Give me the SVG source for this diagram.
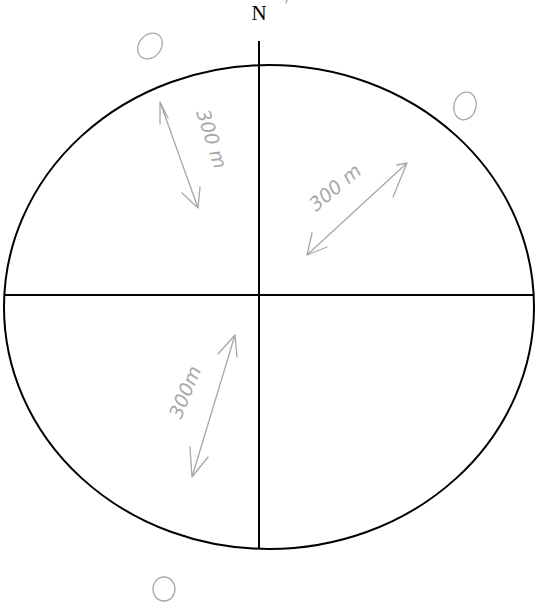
<svg xmlns="http://www.w3.org/2000/svg" width="538" height="612" viewBox="0 0 538 612">
<style>
.ink{fill:none;stroke:#000;stroke-width:2}
.pen{fill:none;stroke:#a8a8a8;stroke-width:1.3;stroke-linecap:round;stroke-linejoin:round}
.hw{font-family:"DejaVu Sans",sans-serif;font-style:italic;fill:#a8a8a8;font-size:19px}
</style>
<rect width="538" height="612" fill="#fff"/>
<g id="outline">
<ellipse class="ink" cx="269" cy="307" rx="265" ry="242"/>
</g>
<g id="connectors">
<line class="ink" x1="259" y1="41" x2="259" y2="549"/>
<line class="ink" x1="4" y1="295" x2="534" y2="295"/>
</g>
<g id="north">
<text x="259" y="20" text-anchor="middle" font-family="Liberation Serif, serif" font-size="21">N</text>
<line class="pen" x1="287" y1="0" x2="286" y2="3"/>
</g>
<g id="marks">
<ellipse class="pen" cx="150" cy="46" rx="11" ry="14" transform="rotate(40 150 46)"/>
<ellipse class="pen" cx="465" cy="106" rx="11" ry="14" transform="rotate(15 465 106)"/>
<ellipse class="pen" cx="164" cy="589" rx="11" ry="12"/>
</g>
<g id="arrow-nw">
<path class="pen" d="M160 102 L198 208 M160 102 L168 118 M160 102 L160 124 M182 193 L198 208 L200 187"/>
<text class="hw" transform="translate(196 112) rotate(72)">300 m</text>
</g>
<g id="arrow-ne">
<path class="pen" d="M307 255 L407 163 M307 255 L312 233 M307 255 L327 247 M397 165 L407 163 L393 197"/>
<text class="hw" transform="translate(316 212) rotate(-40)">300 m</text>
</g>
<g id="arrow-sw">
<path class="pen" d="M235 335 L192 477 M235 335 L218 354 M235 335 L237 357 M190 447 L192 477 L208 457"/>
<text class="hw" transform="translate(181 420) rotate(-68)">300m</text>
</g>
</svg>
